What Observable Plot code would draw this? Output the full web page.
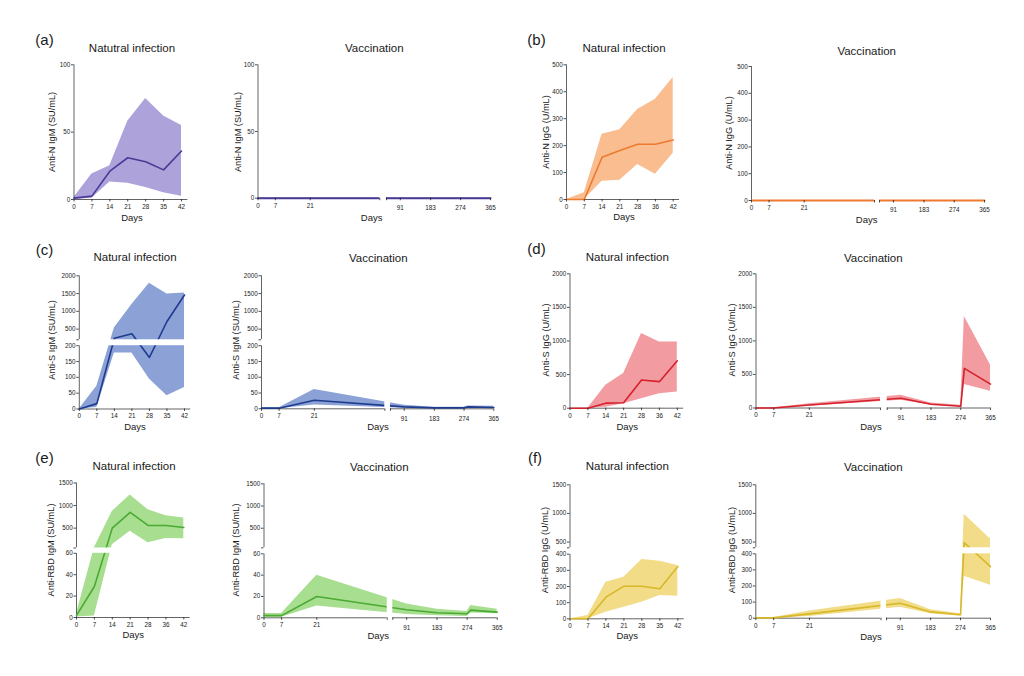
<!DOCTYPE html>
<html><head><meta charset="utf-8">
<script src="https://cdn.jsdelivr.net/npm/d3@7"></script>
<script src="https://cdn.jsdelivr.net/npm/@observablehq/plot@0.6"></script>
<style>
body{margin:0;background:#fff;}
#fig{position:relative;width:1024px;height:676px;overflow:hidden;font-family:"Liberation Sans",Arial,sans-serif;color:#1a1a1a;background:#fff;}
.t{position:absolute;white-space:nowrap;transform:translate(-50%,-50%);line-height:1;}
.yl{transform:translate(-50%,-50%) rotate(-90deg);}
.ttl{font-size:11.5px;}
.days{font-size:9.5px;}
.ylab{font-size:9.2px;}
.let{font-size:15px;}
</style></head><body><div id="fig"></div>
<script>
// ---------- data ----------
const natDays = [0, 7, 14, 21, 28, 35, 42];
const vacDays = [0, 7, 21, 91, 183, 274, 285, 365];

const natTickDays = [0, 7, 14, 21, 28, 35, 42];
const natTickLabels35 = ["0", "7", "14", "21", "28", "35", "42"];
const natTickLabels36 = ["0", "7", "14", "21", "28", "36", "42"];
const vacTickDaysLeft = [0, 7, 21];
const vacTickLabelsLeft = ["0", "7", "21"];
const vacTickDaysRight = [91, 183, 274, 365];
const vacTickLabelsRight = ["91", "183", "274", "365"];

const yTicksA = [0, 50, 100];
const yTicksB = [0, 100, 200, 300, 400, 500];
const yTicksC = [0, 50, 100, 150, 200, 500, 1000, 1500, 2000];
const yTicksD = [0, 500, 1000, 1500, 2000];
const yTicksE = [0, 20, 40, 60, 500, 1000, 1500];
const yTicksF = [0, 100, 200, 300, 400, 500, 1000, 1500];

// (a) Anti-N IgM
const aNatMean = [1, 2.5, 21, 31, 28, 22, 36];
const aNatLo   = [0, 1, 13, 12, 9, 5, 2.5];
const aNatHi   = [1.5, 19, 25, 58, 75, 62, 55];
const aVacMean = [0, 0, 0, 0, 0, 0, 0, 0];
const aVacLo   = [0, 0, 0, 0, 0, 0, 0, 0];
const aVacHi   = [0, 0, 0, 0, 0, 0, 0, 0];
// (b) Anti-N IgG
const bNatMean = [0, 0, 157, 182, 205, 205, 221];
const bNatLo   = [0, 0, 68, 71, 130, 94, 172];
const bNatHi   = [0, 25, 242, 259, 334, 372, 453];
const bVacMean = [0, 0, 0, 0, 0, 0, 0, 0];
const bVacLo   = [0, 0, 0, 0, 0, 0, 0, 0];
const bVacHi   = [0, 0, 0, 0, 0, 0, 0, 0];
// (c) Anti-S IgM
const cNatMean = [0, 17, 245, 370, 163, 715, 1460];
const cNatLo   = [0, 5, 177, 177, 95, 42, 68];
const cNatHi   = [0, 72, 530, 1190, 1790, 1490, 1518];
const cVacMean = [2, 2, 27, 6, 3, 3, 6, 4];
const cVacLo   = [0, 0, 12, 2, 1, 1, 3, 2];
const cVacHi   = [3, 3, 61, 11, 5, 5, 9, 8];
// (d) Anti-S IgG
const dNatMean = [0, 0, 75, 80, 420, 395, 705];
const dNatLo   = [0, 0, 15, 65, 140, 215, 240];
const dNatHi   = [0, 0, 340, 515, 1110, 985, 985];
const dVacMean = [0, 0, 45, 145, 55, 25, 590, 355];
const dVacLo   = [0, 0, 25, 115, 45, 15, 350, 250];
const dVacHi   = [5, 5, 65, 190, 75, 40, 1365, 640];
// (e) Anti-RBD IgM
const eNatMean = [2, 29, 500, 850, 560, 560, 515];
const eNatLo   = [0.5, 1.5, 130, 430, 175, 268, 265];
const eNatHi   = [3.5, 65, 870, 1235, 910, 775, 725];
const eVacMean = [2, 2, 20, 7.5, 4.7, 3.8, 7.2, 5.3];
const eVacLo   = [0.5, 0.5, 11, 3, 2, 1.3, 4.4, 3.8];
const eVacHi   = [4, 4, 40, 13, 8, 6, 11.5, 8];
// (f) Anti-RBD IgG
const fNatMean = [0, 0, 134, 202, 202, 186, 324];
const fNatLo   = [0, 0, 41, 72, 103, 144, 140];
const fNatHi   = [0, 20, 227, 258, 367, 357, 330];
const fVacMean = [2, 2, 27, 93, 39, 21, 490, 320];
const fVacLo   = [0, 0, 10, 68, 27, 12, 260, 205];
const fVacHi   = [5, 5, 44, 123, 52, 27, 985, 555];

const yLabels = {
  a: "Anti-N IgM (SU/mL)", b: "Anti-N IgG (U/mL)", c: "Anti-S IgM (SU/mL)",
  d: "Anti-S IgG (U/mL)", e: "Anti-RBD IgM (SU/mL)", f: "Anti-RBD IgG (U/mL)"
};
const colors = {
  a: {fill: "#ada2da", stroke: "#4b3a96"},
  b: {fill: "#f9bd90", stroke: "#ec7b30"},
  c: {fill: "#8ca2d7", stroke: "#1e3c8e"},
  d: {fill: "#f29ca2", stroke: "#d6202c"},
  e: {fill: "#a8de90", stroke: "#4aaa33"},
  f: {fill: "#f2dc87", stroke: "#d6b829"}
};

// ---------- layout (pixel geometry of each panel) ----------
const XB = 49, EPS = 0.001, NAT_END = 44.5;
const layout = {
  aNat: {x: [73.5, 181], y: [199, 64.3], title: [132, 49.3], ylab: [53.3, 131.7], days: [132, 218]},
  aVac: {x: [257.5, 379.3, 386, 490], y: [197.7, 64.3], title: [374.3, 49.3], ylab: [239, 131.7], days: [371.7, 218]},
  bNat: {x: [566, 672.7], y: [199, 64.3], title: [624, 49.3], ylab: [546.7, 131.7], days: [624, 217.3]},
  bVac: {x: [751, 874, 879, 984], y: [200, 66], title: [866.7, 51.7], ylab: [730, 133.3], days: [866.7, 220]},
  cNat: {x: [78.8, 184], y: [408.5, 345.2, 339.3, 275.3], title: [135, 258.3], ylab: [53.3, 340], days: [135, 426.7]},
  cVac: {x: [261, 384.3, 390, 493.3], y: [408.3, 345.2, 339.3, 275.3], title: [378.3, 259.3], ylab: [236.7, 340], days: [378, 427]},
  dNat: {x: [569.5, 676.8], y: [407.7, 273.3], title: [627.3, 258.3], ylab: [546.7, 340], days: [627.3, 426.7]},
  dVac: {x: [755.5, 880, 886.7, 990], y: [407.5, 273.3], title: [873.3, 259.3], ylab: [733.3, 340], days: [871, 427.3]},
  eNat: {x: [76, 183.3], y: [617, 552.8, 547.5, 482.5], title: [134, 467.3], ylab: [52.3, 550], days: [133.3, 635]},
  eVac: {x: [263.5, 386.7, 392.3, 496.7], y: [617.3, 553.3, 547.3, 483.3], title: [379.3, 468.3], ylab: [236.7, 550], days: [378.3, 636]},
  fNat: {x: [569.5, 677.3], y: [618.3, 553.7, 547.3, 484.3], title: [627.3, 467.3], ylab: [546, 550], days: [627.3, 636]},
  fVac: {x: [755.3, 880.5, 886, 990], y: [617.7, 553.3, 547.3, 484.3], title: [873.3, 468.3], ylab: [732.7, 550], days: [871, 636.7]}
};
const letterPos = {a: [44.5, 39], b: [536.5, 39], c: [44.5, 249], d: [536.5, 248], e: [44.5, 457], f: [535, 457]};

const panels = [
  {key: "a", id: "aNat", vac: false, mean: aNatMean, lo: aNatLo, hi: aNatHi, yDomain: [0, 100], yTicks: yTicksA, xLabels: natTickLabels35, title: "Natutral infection"},
  {key: "a", id: "aVac", vac: true, mean: aVacMean, lo: aVacLo, hi: aVacHi, yDomain: [0, 100], yTicks: yTicksA, title: "Vaccination"},
  {key: "b", id: "bNat", vac: false, mean: bNatMean, lo: bNatLo, hi: bNatHi, yDomain: [0, 500], yTicks: yTicksB, xLabels: natTickLabels36, title: "Natural infection"},
  {key: "b", id: "bVac", vac: true, mean: bVacMean, lo: bVacLo, hi: bVacHi, yDomain: [0, 500], yTicks: yTicksB, title: "Vaccination"},
  {key: "c", id: "cNat", vac: false, mean: cNatMean, lo: cNatLo, hi: cNatHi, yDomain: [0, 200, 200 + EPS, 2000], yBreak: 200, yTicks: yTicksC, xLabels: natTickLabels35, title: "Natural infection"},
  {key: "c", id: "cVac", vac: true, mean: cVacMean, lo: cVacLo, hi: cVacHi, yDomain: [0, 200, 200 + EPS, 2000], yBreak: 200, yTicks: yTicksC, title: "Vaccination"},
  {key: "d", id: "dNat", vac: false, mean: dNatMean, lo: dNatLo, hi: dNatHi, yDomain: [0, 2000], yTicks: yTicksD, xLabels: natTickLabels36, title: "Natural infection"},
  {key: "d", id: "dVac", vac: true, mean: dVacMean, lo: dVacLo, hi: dVacHi, yDomain: [0, 2000], yTicks: yTicksD, title: "Vaccination"},
  {key: "e", id: "eNat", vac: false, mean: eNatMean, lo: eNatLo, hi: eNatHi, yDomain: [0, 60, 60 + EPS, 1500], yBreak: 60, yTicks: yTicksE, xLabels: natTickLabels36, title: "Natural infection"},
  {key: "e", id: "eVac", vac: true, mean: eVacMean, lo: eVacLo, hi: eVacHi, yDomain: [0, 60, 60 + EPS, 1500], yBreak: 60, yTicks: yTicksE, title: "Vaccination"},
  {key: "f", id: "fNat", vac: false, mean: fNatMean, lo: fNatLo, hi: fNatHi, yDomain: [0, 400, 400 + EPS, 1500], yBreak: 400, yTicks: yTicksF, xLabels: natTickLabels35, title: "Natural infection"},
  {key: "f", id: "fVac", vac: true, mean: fVacMean, lo: fVacLo, hi: fVacHi, yDomain: [0, 400, 400 + EPS, 1500], yBreak: 400, yTicks: yTicksF, title: "Vaccination"}
];

const fig = document.getElementById("fig");
const AX = "#3c3c3c";
const FS = 6.3;
const fmt = (ticks, labels) => { const m = new Map(ticks.map((t, i) => [t, labels[i]])); return d => m.has(d) ? m.get(d) : ""; };

function drawPanel(p) {
  const g = layout[p.id];
  const xs = g.x, ys = g.y;
  const left = Math.floor(xs[0] - 28), top = Math.floor(ys[ys.length - 1] - 8);
  const width = Math.ceil(xs[xs.length - 1] + 16 - left), height = Math.ceil(ys[0] + 20 - top);
  const xr = xs.map(v => v - left), yr = ys.map(v => v - top);
  const days = p.vac ? vacDays : natDays;
  const rows = days.map((d, i) => ({day: d, mean: p.mean[i], lo: p.lo[i], hi: p.hi[i]}));
  const xDomain = p.vac ? [0, XB, XB + EPS, 365] : [0, 42];
  const yMax = p.yDomain[p.yDomain.length - 1];
  const col = colors[p.key];
  const flat = p.mean.every(v => v === 0);
  const marks = [];
  marks.push(Plot.areaY(rows, {x: "day", y1: "lo", y2: "hi", fill: col.fill}));
  const xSegs = p.vac ? [[0, XB], [XB + EPS, 365]] : [[0, NAT_END]];
  const ySegs = p.yBreak != null ? [[0, p.yBreak], [p.yBreak + EPS, yMax]] : [[0, yMax]];
  for (const [a, b] of xSegs) marks.push(Plot.ruleY([0], {x1: a, x2: b, stroke: AX, strokeWidth: 0.8}));
  for (const [a, b] of ySegs) marks.push(Plot.ruleX([0], {y1: a, y2: b, stroke: AX, strokeWidth: 0.8}));
  marks.push(Plot.lineY(rows, {x: "day", y: "mean", stroke: col.stroke, strokeWidth: flat ? 2 : 1.6}));
  if (p.vac) marks.push(Plot.rect([0], {x1: XB, x2: XB + EPS, y1: -0.04 * p.yDomain[1], y2: yMax, fill: "white"}));
  if (p.yBreak != null) marks.push(Plot.rect([0], {x1: -1, x2: p.vac ? 370 : NAT_END, y1: p.yBreak, y2: p.yBreak + EPS, fill: "white"}));
  const axOpt = {tickSize: 2.5, fontSize: FS, strokeWidth: 0.8, label: null};
  if (p.vac) {
    marks.push(Plot.axisX(vacTickDaysLeft, {...axOpt, tickPadding: 2.5, tickFormat: fmt(vacTickDaysLeft, vacTickLabelsLeft)}));
    marks.push(Plot.axisX(vacTickDaysRight, {...axOpt, tickPadding: 5, tickFormat: fmt(vacTickDaysRight, vacTickLabelsRight)}));
    marks.push(Plot.axisX([XB, XB + EPS], {...axOpt, tickPadding: 2, tickFormat: () => ""}));
  } else {
    marks.push(Plot.axisX(natTickDays, {...axOpt, tickPadding: 2.5, tickFormat: fmt(natTickDays, p.xLabels)}));
  }
  marks.push(Plot.axisY(p.yTicks, {...axOpt, tickPadding: 1.2, tickFormat: fmt(p.yTicks, p.yTicks.map(String))}));
  if (p.yBreak != null) marks.push(Plot.axisY([p.yBreak + EPS], {...axOpt, tickPadding: 1, tickFormat: () => ""}));

  const svg = Plot.plot({
    width, height,
    marginLeft: xr[0], marginRight: width - xr[xr.length - 1],
    marginTop: yr[yr.length - 1], marginBottom: height - yr[0],
    x: {type: "linear", domain: xDomain, range: xr, label: null},
    y: {type: "linear", domain: p.yDomain, range: yr, label: null},
    style: {position: "absolute", left: left + "px", top: top + "px", background: "transparent", fontFamily: "'Liberation Sans', Arial, sans-serif", color: "#222", overflow: "visible", maxWidth: "none"},
    marks
  });
  fig.appendChild(svg);
}

function addText(txt, pos, cls) {
  const d = document.createElement("div");
  d.className = "t " + cls;
  d.textContent = txt;
  d.style.left = pos[0] + "px";
  d.style.top = pos[1] + "px";
  fig.appendChild(d);
}

for (const p of panels) drawPanel(p);
for (const p of panels) {
  const g = layout[p.id];
  addText(p.title, g.title, "ttl");
  addText("Days", g.days, "days");
  addText(yLabels[p.key], g.ylab, "ylab yl");
}
for (const k of Object.keys(letterPos)) addText("(" + k + ")", letterPos[k], "let");
</script></body></html>
